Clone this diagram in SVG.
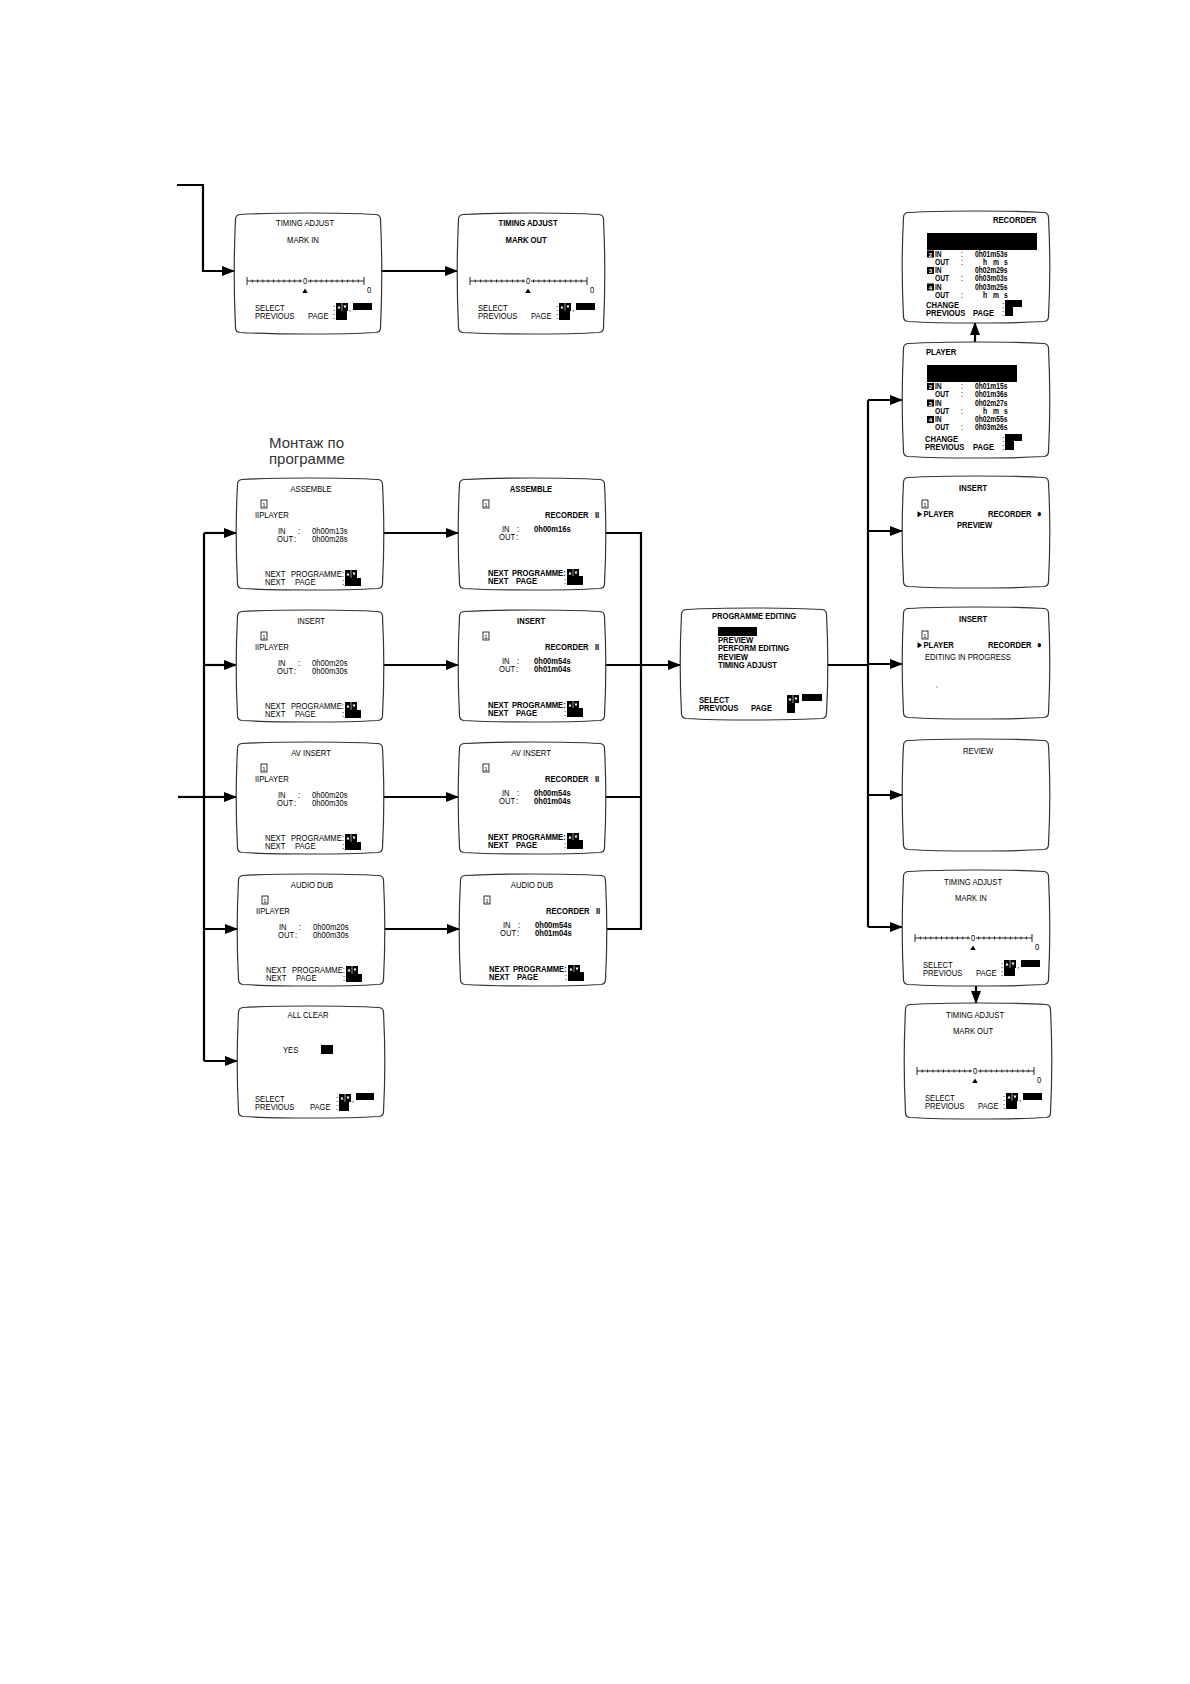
<svg xmlns="http://www.w3.org/2000/svg" xmlns:xlink="http://www.w3.org/1999/xlink" width="1190" height="1684" viewBox="0 0 1190 1684">
<style>
.t{font-family:"Liberation Sans",Arial,sans-serif;font-size:9.9px;fill:#000;transform-box:fill-box;transform-origin:0 50%;transform:scaleX(0.77)}
.s{font-family:"Liberation Sans",Arial,sans-serif;font-size:8.6px;fill:#000;transform-box:fill-box;transform-origin:0 50%;transform:scaleX(0.78)}
.n{font-family:"Liberation Sans",Arial,sans-serif;font-size:6px;fill:#000;text-anchor:middle}
.w{font-family:"Liberation Sans",Arial,sans-serif;font-size:6px;fill:#fff;text-anchor:middle;font-weight:bold}
.b{font-weight:bold}
.c{text-anchor:middle;transform-origin:50% 50%}
.k{fill:#000}
.bx{fill:none;stroke:#000;stroke-width:0.8}
.scale{fill:none;stroke:#111;stroke-width:0.9}
.ln{fill:none;stroke:#000;stroke-width:2.2}
.ar{marker-end:url(#ah)}
.lab{font-family:"Liberation Sans",Arial,sans-serif;font-size:15px;fill:#333}
</style>
<defs>
<marker id="ah" markerUnits="userSpaceOnUse" markerWidth="13" markerHeight="10" refX="12" refY="5" orient="auto"><path d="M0,0 L13,5 L0,10 Z" fill="#000"/></marker>
<path id="scr" d="M5,1.5 C40,-0.5 106,-0.5 141,1.5 Q145.5,2 145.5,6.5 C147,35 147,77 145.5,105.5 Q145.5,110 141,110.5 C106,112.5 40,112.5 5,110.5 Q0.5,110 0.5,105.5 C-1,77 -1,35 0.5,6.5 Q0.5,2 5,1.5 Z" fill="#fff" stroke="#333" stroke-width="1.2"/>
<path id="scrT" d="M5,1.5 C40,-0.5 106,-0.5 141,1.5 Q145.5,2 145.5,6.5 C147,37 147,80 145.5,109.5 Q145.5,114 141,114.5 C106,116.5 40,116.5 5,114.5 Q0.5,114 0.5,109.5 C-1,80 -1,37 0.5,6.5 Q0.5,2 5,1.5 Z" fill="#fff" stroke="#333" stroke-width="1.2"/>
<path id="scrL" d="M5,1.5 C40,-0.5 106,-0.5 141,1.5 Q145.5,2 145.5,6.5 C147,38 147,83 145.5,114.5 Q145.5,119 141,119.5 C106,121.5 40,121.5 5,119.5 Q0.5,119 0.5,114.5 C-1,83 -1,38 0.5,6.5 Q0.5,2 5,1.5 Z" fill="#fff" stroke="#333" stroke-width="1.2"/>
<g id="ud"><rect x="0" y="0" width="12" height="8" fill="#000"/><rect x="5.7" y="0" width="0.6" height="8" fill="#fff"/><path d="M1.5,5.5 L4.5,5.5 L3,2.5 Z M7.5,2.5 L10.5,2.5 L9,5.5 Z" fill="#fff"/></g>
<g id="tscale">
<path class="scale" d="M12,68 H67 M73,68 H129 M12,64 V72 M129,64 V72"/>
<path class="scale" d="M17.3,66.5 V69.5 M22.6,66.5 V69.5 M27.9,66.5 V69.5 M33.2,66.5 V69.5 M38.5,66.5 V69.5 M43.8,66.5 V69.5 M49.1,66.5 V69.5 M54.4,66.5 V69.5 M59.7,66.5 V69.5 M65,66.5 V69.5 M75.6,66.5 V69.5 M80.9,66.5 V69.5 M86.2,66.5 V69.5 M91.5,66.5 V69.5 M96.8,66.5 V69.5 M102.1,66.5 V69.5 M107.4,66.5 V69.5 M112.7,66.5 V69.5 M118,66.5 V69.5 M123.3,66.5 V69.5"/>
<path d="M67.3,80 L72.7,80 L70,75.5 Z" fill="#000"/>
</g>
</defs>
<rect width="1190" height="1684" fill="#fff"/>

<text class="lab" x="269" y="448">Монтаж по</text>
<text class="lab" x="269" y="464">программе</text>

<g id="connectors">
<path class="ln ar" d="M177,185 H203 V271 H234"/>
<path class="ln ar" d="M381,271 H457"/>
<path class="ln" d="M204,533 V1061"/>
<path class="ln" d="M178,797 H204"/>
<path class="ln ar" d="M204,533 H236"/>
<path class="ln ar" d="M204,665 H236"/>
<path class="ln ar" d="M204,797 H236"/>
<path class="ln ar" d="M204,929 H237"/>
<path class="ln ar" d="M204,1061 H237"/>
<path class="ln ar" d="M383,533 H458"/>
<path class="ln ar" d="M383,665 H458"/>
<path class="ln ar" d="M383,797 H458"/>
<path class="ln ar" d="M384,929 H459"/>
<path class="ln" d="M606,533 H641 V929 H607 M606,665 H641 M606,797 H641"/>
<path class="ln ar" d="M641,665 H680"/>
<path class="ln" d="M827,665 H868 M868,400 V927"/>
<path class="ln ar" d="M868,400 H902"/>
<path class="ln ar" d="M868,531 H902"/>
<path class="ln ar" d="M868,664 H902"/>
<path class="ln ar" d="M868,795 H902"/>
<path class="ln ar" d="M868,927 H902"/>
<path class="ln ar" d="M975,342 V323"/>
<path class="ln ar" d="M976,985 V1003"/>
</g>

<g id="ta-in-top" transform="translate(235,213)">
<use href="#scrL"/>
<text class="t c" x="70" y="13">TIMING  ADJUST</text>
<text class="t c" x="68" y="30">MARK  IN</text>
<use href="#tscale"/>
<text class="t c" x="70" y="71">0</text>
<text class="t" x="132" y="80">0</text>
<text class="t" x="20" y="98">SELECT</text>
<text class="t" x="20" y="106">PREVIOUS</text>
<text class="t" x="73" y="106">PAGE</text>
<text class="t" x="98" y="98">:</text><text class="t" x="98" y="106">:</text>
<use href="#ud" x="101" y="90"/><rect class="k" x="101" y="98" width="11" height="9"/>
<text class="t" x="114" y="98">,</text><rect class="k" x="118" y="90" width="19" height="7"/>
</g>

<g id="ta-out-top" transform="translate(458,213)">
<use href="#scrL"/>
<text class="t c b" x="70" y="13">TIMING  ADJUST</text>
<text class="t c b" x="68" y="30">MARK  OUT</text>
<use href="#tscale"/>
<text class="t c" x="70" y="71">0</text>
<text class="t" x="132" y="80">0</text>
<text class="t" x="20" y="98">SELECT</text>
<text class="t" x="20" y="106">PREVIOUS</text>
<text class="t" x="73" y="106">PAGE</text>
<text class="t" x="98" y="98">:</text><text class="t" x="98" y="106">:</text>
<use href="#ud" x="101" y="90"/><rect class="k" x="101" y="98" width="11" height="9"/>
<text class="t" x="114" y="98">,</text><rect class="k" x="118" y="90" width="19" height="7"/>
</g>

<g id="assemble-player" transform="translate(237,478)">
<use href="#scr"/>
<text class="t c" x="74" y="14">ASSEMBLE</text>
<rect class="bx" x="24" y="22" width="6" height="8"/><text class="n" x="27" y="28.5">1</text>
<text class="t" x="18" y="40">IIPLAYER</text>
<text class="t" x="41" y="56">IN</text><text class="t" x="61" y="56">:</text><text class="t" x="75" y="56">0h00m13s</text>
<text class="t" x="40" y="64">OUT</text><text class="t" x="57" y="64">:</text><text class="t" x="75" y="64">0h00m28s</text>
<text class="t" x="28" y="99">NEXT</text><text class="t" x="54" y="99">PROGRAMME:</text>
<text class="t" x="28" y="107">NEXT</text><text class="t" x="58" y="107">PAGE</text><text class="t" x="105" y="107">:</text>
<use href="#ud" x="108" y="92"/><rect class="k" x="108" y="100" width="16" height="8"/>
</g>

<g id="insert-player" transform="translate(237,610)">
<use href="#scr"/>
<text class="t c" x="74" y="14">INSERT</text>
<rect class="bx" x="24" y="22" width="6" height="8"/><text class="n" x="27" y="28.5">1</text>
<text class="t" x="18" y="40">IIPLAYER</text>
<text class="t" x="41" y="56">IN</text><text class="t" x="61" y="56">:</text><text class="t" x="75" y="56">0h00m20s</text>
<text class="t" x="40" y="64">OUT</text><text class="t" x="57" y="64">:</text><text class="t" x="75" y="64">0h00m30s</text>
<text class="t" x="28" y="99">NEXT</text><text class="t" x="54" y="99">PROGRAMME:</text>
<text class="t" x="28" y="107">NEXT</text><text class="t" x="58" y="107">PAGE</text><text class="t" x="105" y="107">:</text>
<use href="#ud" x="108" y="92"/><rect class="k" x="108" y="100" width="16" height="8"/>
</g>

<g id="avinsert-player" transform="translate(237,742)">
<use href="#scr"/>
<text class="t c" x="74" y="14">AV  INSERT</text>
<rect class="bx" x="24" y="22" width="6" height="8"/><text class="n" x="27" y="28.5">1</text>
<text class="t" x="18" y="40">IIPLAYER</text>
<text class="t" x="41" y="56">IN</text><text class="t" x="61" y="56">:</text><text class="t" x="75" y="56">0h00m20s</text>
<text class="t" x="40" y="64">OUT</text><text class="t" x="57" y="64">:</text><text class="t" x="75" y="64">0h00m30s</text>
<text class="t" x="28" y="99">NEXT</text><text class="t" x="54" y="99">PROGRAMME:</text>
<text class="t" x="28" y="107">NEXT</text><text class="t" x="58" y="107">PAGE</text><text class="t" x="105" y="107">:</text>
<use href="#ud" x="108" y="92"/><rect class="k" x="108" y="100" width="16" height="8"/>
</g>

<g id="audiodub-player" transform="translate(238,874)">
<use href="#scr"/>
<text class="t c" x="74" y="14">AUDIO  DUB</text>
<rect class="bx" x="24" y="22" width="6" height="8"/><text class="n" x="27" y="28.5">1</text>
<text class="t" x="18" y="40">IIPLAYER</text>
<text class="t" x="41" y="56">IN</text><text class="t" x="61" y="56">:</text><text class="t" x="75" y="56">0h00m20s</text>
<text class="t" x="40" y="64">OUT</text><text class="t" x="57" y="64">:</text><text class="t" x="75" y="64">0h00m30s</text>
<text class="t" x="28" y="99">NEXT</text><text class="t" x="54" y="99">PROGRAMME:</text>
<text class="t" x="28" y="107">NEXT</text><text class="t" x="58" y="107">PAGE</text><text class="t" x="105" y="107">:</text>
<use href="#ud" x="108" y="92"/><rect class="k" x="108" y="100" width="16" height="8"/>
</g>

<g id="allclear" transform="translate(238,1006)">
<use href="#scr"/>
<text class="t c" x="70" y="12">ALL  CLEAR</text>
<text class="t" x="45" y="47">YES</text>
<rect class="k" x="83" y="39" width="12" height="9"/>
<text class="t" x="17" y="96">SELECT</text>
<text class="t" x="17" y="104">PREVIOUS</text>
<text class="t" x="72" y="104">PAGE</text>
<text class="t" x="98" y="96">:</text><text class="t" x="98" y="104">:</text>
<use href="#ud" x="101" y="88"/><rect class="k" x="101" y="96" width="10" height="9"/>
<text class="t" x="114" y="96">,</text><rect class="k" x="118" y="87" width="18" height="7"/>
</g>

<g id="assemble-recorder" transform="translate(459,478)">
<use href="#scr"/>
<text class="t c b" x="72" y="14">ASSEMBLE</text>
<rect class="bx" x="24" y="22" width="6" height="8"/><text class="n" x="27" y="28.5">1</text>
<text class="t b" x="86" y="40">RECORDER</text><text class="t b" x="136" y="40">II</text>
<text class="t" x="43" y="54">IN</text><text class="t" x="58" y="54">:</text><text class="t b" x="75" y="54">0h00m16s</text>
<text class="t" x="40" y="62">OUT</text><text class="t" x="57" y="62">:</text>
<text class="t b" x="29" y="98">NEXT</text><text class="t b" x="53" y="98">PROGRAMME:</text>
<text class="t b" x="29" y="106">NEXT</text><text class="t b" x="57" y="106">PAGE</text><text class="t" x="105" y="106">:</text>
<use href="#ud" x="108" y="91"/><rect class="k" x="108" y="98" width="16" height="9"/>
</g>

<g id="insert-recorder" transform="translate(459,610)">
<use href="#scr"/>
<text class="t c b" x="72" y="14">INSERT</text>
<rect class="bx" x="24" y="22" width="6" height="8"/><text class="n" x="27" y="28.5">1</text>
<text class="t b" x="86" y="40">RECORDER</text><text class="t b" x="136" y="40">II</text>
<text class="t" x="43" y="54">IN</text><text class="t" x="58" y="54">:</text><text class="t b" x="75" y="54">0h00m54s</text>
<text class="t" x="40" y="62">OUT</text><text class="t" x="57" y="62">:</text><text class="t b" x="75" y="62">0h01m04s</text>
<text class="t b" x="29" y="98">NEXT</text><text class="t b" x="53" y="98">PROGRAMME:</text>
<text class="t b" x="29" y="106">NEXT</text><text class="t b" x="57" y="106">PAGE</text><text class="t" x="105" y="106">:</text>
<use href="#ud" x="108" y="91"/><rect class="k" x="108" y="98" width="16" height="9"/>
</g>

<g id="avinsert-recorder" transform="translate(459,742)">
<use href="#scr"/>
<text class="t c" x="72" y="14">AV  INSERT</text>
<rect class="bx" x="24" y="22" width="6" height="8"/><text class="n" x="27" y="28.5">1</text>
<text class="t b" x="86" y="40">RECORDER</text><text class="t b" x="136" y="40">II</text>
<text class="t" x="43" y="54">IN</text><text class="t" x="58" y="54">:</text><text class="t b" x="75" y="54">0h00m54s</text>
<text class="t" x="40" y="62">OUT</text><text class="t" x="57" y="62">:</text><text class="t b" x="75" y="62">0h01m04s</text>
<text class="t b" x="29" y="98">NEXT</text><text class="t b" x="53" y="98">PROGRAMME:</text>
<text class="t b" x="29" y="106">NEXT</text><text class="t b" x="57" y="106">PAGE</text><text class="t" x="105" y="106">:</text>
<use href="#ud" x="108" y="91"/><rect class="k" x="108" y="98" width="16" height="9"/>
</g>

<g id="audiodub-recorder" transform="translate(460,874)">
<use href="#scr"/>
<text class="t c" x="72" y="14">AUDIO  DUB</text>
<rect class="bx" x="24" y="22" width="6" height="8"/><text class="n" x="27" y="28.5">1</text>
<text class="t b" x="86" y="40">RECORDER</text><text class="t b" x="136" y="40">II</text>
<text class="t" x="43" y="54">IN</text><text class="t" x="58" y="54">:</text><text class="t b" x="75" y="54">0h00m54s</text>
<text class="t" x="40" y="62">OUT</text><text class="t" x="57" y="62">:</text><text class="t b" x="75" y="62">0h01m04s</text>
<text class="t b" x="29" y="98">NEXT</text><text class="t b" x="53" y="98">PROGRAMME:</text>
<text class="t b" x="29" y="106">NEXT</text><text class="t b" x="57" y="106">PAGE</text><text class="t" x="105" y="106">:</text>
<use href="#ud" x="108" y="91"/><rect class="k" x="108" y="98" width="16" height="9"/>
</g>

<g id="programme-editing" transform="translate(681,608)">
<use href="#scr"/>
<text class="t c b" x="73" y="11">PROGRAMME  EDITING</text>
<rect class="k" x="37" y="19" width="39" height="9"/>
<text class="t b" x="37" y="35">PREVIEW</text>
<text class="t b" x="37" y="43.5">PERFORM  EDITING</text>
<text class="t b" x="37" y="52">REVIEW</text>
<text class="t b" x="37" y="60.5">TIMING  ADJUST</text>
<text class="t b" x="18" y="95">SELECT</text>
<text class="t b" x="18" y="103.5">PREVIOUS</text>
<text class="t b" x="70" y="103.5">PAGE</text>
<use href="#ud" x="106" y="87"/><rect class="k" x="106" y="95" width="8" height="10"/>
<rect class="k" x="121" y="86" width="20" height="7"/>
</g>

<g id="recorder-list" transform="translate(903,211)">
<use href="#scr"/>
<text class="t b" x="90" y="12">RECORDER</text>
<rect class="k" x="24" y="22" width="110" height="17"/>
<rect class="k" x="24" y="39.5" width="7" height="7"/><text class="w" x="27.5" y="45.5">2</text>
<text class="s b" x="32" y="46">IN</text><text class="s" x="58" y="46">:</text><text class="s b" x="72" y="46">0h01m53s</text>
<text class="s b" x="32" y="54">OUT</text><text class="s" x="58" y="54">:</text><text class="s b" x="80" y="54">h</text><text class="s b" x="90" y="54">m</text><text class="s b" x="101" y="54">s</text>
<rect class="k" x="24" y="56" width="7" height="7"/><text class="w" x="27.5" y="62">3</text>
<text class="s b" x="32" y="62.5">IN</text><text class="s b" x="72" y="62.5">0h02m29s</text>
<text class="s b" x="32" y="70.5">OUT</text><text class="s" x="58" y="70.5">:</text><text class="s b" x="72" y="70.5">0h03m03s</text>
<rect class="k" x="24" y="72.5" width="7" height="7"/><text class="w" x="27.5" y="78.5">4</text>
<text class="s b" x="32" y="79">IN</text><text class="s b" x="72" y="79">0h03m25s</text>
<text class="s b" x="32" y="87">OUT</text><text class="s" x="58" y="87">:</text><text class="s b" x="80" y="87">h</text><text class="s b" x="90" y="87">m</text><text class="s b" x="101" y="87">s</text>
<text class="t b" x="23" y="97">CHANGE</text>
<text class="t b" x="23" y="105">PREVIOUS</text>
<text class="t b" x="70" y="105">PAGE</text>
<text class="t" x="99" y="97">:</text><text class="t" x="99" y="105">:</text>
<rect class="k" x="102" y="89" width="17" height="7"/><rect class="k" x="102" y="96" width="8" height="9"/>
</g>

<g id="player-list" transform="translate(903,342)">
<use href="#scrT"/>
<text class="t b" x="23" y="13">PLAYER</text>
<rect class="k" x="24" y="23" width="90" height="17"/>
<rect class="k" x="24" y="41" width="7" height="7"/><text class="w" x="27.5" y="47">2</text>
<text class="s b" x="32" y="47.5">IN</text><text class="s" x="58" y="47.5">:</text><text class="s b" x="72" y="47.5">0h01m15s</text>
<text class="s b" x="32" y="55.5">OUT</text><text class="s" x="58" y="55.5">:</text><text class="s b" x="72" y="55.5">0h01m36s</text>
<rect class="k" x="24" y="57.5" width="7" height="7"/><text class="w" x="27.5" y="63.5">3</text>
<text class="s b" x="32" y="64">IN</text><text class="s b" x="72" y="64">0h02m27s</text>
<text class="s b" x="32" y="72">OUT</text><text class="s" x="58" y="72">:</text><text class="s b" x="80" y="72">h</text><text class="s b" x="90" y="72">m</text><text class="s b" x="101" y="72">s</text>
<rect class="k" x="24" y="74" width="7" height="7"/><text class="w" x="27.5" y="80">4</text>
<text class="s b" x="32" y="80.5">IN</text><text class="s b" x="72" y="80.5">0h02m55s</text>
<text class="s b" x="32" y="88.5">OUT</text><text class="s" x="58" y="88.5">:</text><text class="s b" x="72" y="88.5">0h03m26s</text>
<text class="t b" x="22" y="100">CHANGE</text>
<text class="t b" x="22" y="108">PREVIOUS</text>
<text class="t b" x="70" y="108">PAGE</text>
<text class="t" x="99" y="100">:</text><text class="t" x="99" y="108">:</text>
<rect class="k" x="102" y="92" width="17" height="7"/><rect class="k" x="102" y="99" width="9" height="9"/>
</g>

<g id="insert-preview" transform="translate(903,476)">
<use href="#scr"/>
<text class="t c b" x="70" y="15">INSERT</text>
<rect class="bx" x="19" y="24" width="6" height="8"/><text class="n" x="22" y="30.5">1</text>
<text class="t b" x="13" y="41">►PLAYER</text>
<text class="t b" x="85" y="41">RECORDER</text><text class="t" x="134" y="41">●</text>
<text class="t b" x="54" y="52">PREVIEW</text>
</g>

<g id="insert-editing" transform="translate(903,607)">
<use href="#scr"/>
<text class="t c b" x="70" y="15">INSERT</text>
<rect class="bx" x="19" y="24" width="6" height="8"/><text class="n" x="22" y="30.5">1</text>
<text class="t b" x="13" y="41">►PLAYER</text>
<text class="t b" x="85" y="41">RECORDER</text><text class="t" x="134" y="41">●</text>
<text class="t" x="22" y="53">EDITING   IN   PROGRESS</text>
<circle cx="34" cy="80" r="0.6" fill="#333"/>
</g>

<g id="review" transform="translate(903,739)">
<use href="#scr"/>
<text class="t c" x="75" y="15">REVIEW</text>
</g>

<g id="ta-in-right" transform="translate(903,870)">
<use href="#scrT"/>
<text class="t c" x="70" y="15">TIMING  ADJUST</text>
<text class="t c" x="68" y="31">MARK  IN</text>
<use href="#tscale"/>
<text class="t c" x="70" y="71">0</text>
<text class="t" x="132" y="80">0</text>
<text class="t" x="20" y="98">SELECT</text>
<text class="t" x="20" y="106">PREVIOUS</text>
<text class="t" x="73" y="106">PAGE</text>
<text class="t" x="98" y="98">:</text><text class="t" x="98" y="106">:</text>
<use href="#ud" x="101" y="90"/><rect class="k" x="101" y="98" width="11" height="8"/>
<text class="t" x="114" y="98">,</text><rect class="k" x="118" y="90" width="19" height="7"/>
</g>

<g id="ta-out-right" transform="translate(905,1003)">
<use href="#scrT"/>
<text class="t c" x="70" y="15">TIMING  ADJUST</text>
<text class="t c" x="68" y="31">MARK  OUT</text>
<use href="#tscale"/>
<text class="t c" x="70" y="71">0</text>
<text class="t" x="132" y="80">0</text>
<text class="t" x="20" y="98">SELECT</text>
<text class="t" x="20" y="106">PREVIOUS</text>
<text class="t" x="73" y="106">PAGE</text>
<text class="t" x="98" y="98">:</text><text class="t" x="98" y="106">:</text>
<use href="#ud" x="101" y="90"/><rect class="k" x="101" y="98" width="11" height="8"/>
<text class="t" x="114" y="98">,</text><rect class="k" x="118" y="90" width="19" height="7"/>
</g>
</svg>
